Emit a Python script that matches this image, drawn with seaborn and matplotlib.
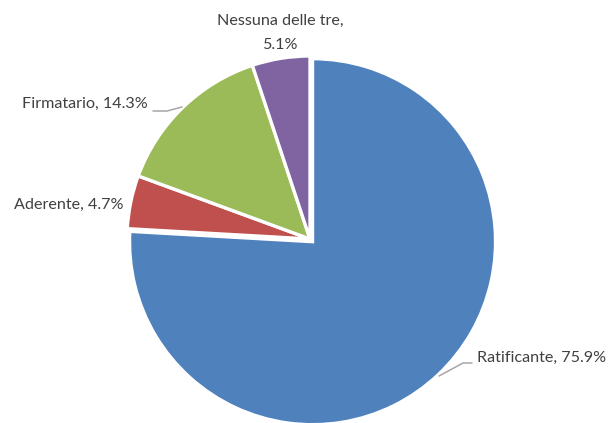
import matplotlib
matplotlib.use("Agg")
import matplotlib.pyplot as plt
import seaborn as sns

categories = ["Ratificante", "Aderente", "Firmatario", "Nessuna delle tre"]
values = [75.9, 4.7, 14.3, 5.1]
label_texts = ["Ratificante, 75.9%", "Aderente, 4.7%", "Firmatario, 14.3%", "Nessuna delle tre,\n5.1%"]

sns.set_theme(style="white")
plt.rcParams["font.family"] = ["Lato", "DejaVu Sans"]
colors = ["#4F81BD", "#C0504D", "#9BBB59", "#8064A2"]

W, H = 608, 423
fig = plt.figure(figsize=(W / 100, H / 100), dpi=100)

# pie drawn in a y-up frame
ax2 = fig.add_axes([0, 0, 1, 1])
ax2.pie(values, colors=colors, startangle=90, counterclock=False,
        center=(310, H - 239), radius=183, explode=[3.7, 0, 0, 0],
        wedgeprops=dict(edgecolor="white", linewidth=2.4), frame=True)
ax2.set_xlim(0, W)
ax2.set_ylim(0, H)
ax2.set_aspect("equal")
ax2.axis("off")

# overlay for labels in pixel coords (y down)
ax = fig.add_axes([0, 0, 1, 1])
ax.set_xlim(0, W)
ax.set_ylim(H, 0)
ax.set_aspect("equal")
ax.axis("off")
ax.patch.set_alpha(0)

tc = "#404040"
fs = 11.6
ax.text(606, 358, label_texts[0], ha="right", va="center", color=tc, fontsize=fs)
ax.text(123, 205, label_texts[1], ha="right", va="center", color=tc, fontsize=fs)
ax.text(148, 104, label_texts[2], ha="right", va="center", color=tc, fontsize=fs)
l1, l2 = label_texts[3].split("\n")
ax.text(280, 21, l1, ha="center", va="center", color=tc, fontsize=fs)
ax.text(280, 45, l2, ha="center", va="center", color=tc, fontsize=fs)

lc = "#A6A6A6"
ax.plot([439, 463, 472], [376, 363, 363], color=lc, lw=1.1)
ax.plot([153, 167, 182], [111, 111, 107], color=lc, lw=1.1)

fig.savefig("out.png", dpi=100, facecolor="white")
